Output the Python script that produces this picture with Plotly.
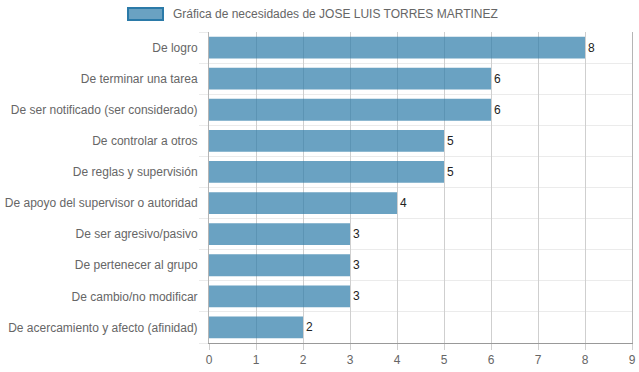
import plotly.graph_objects as go

categories = [
    "De logro",
    "De terminar una tarea",
    "De ser notificado (ser considerado)",
    "De controlar a otros",
    "De reglas y supervisión",
    "De apoyo del supervisor o autoridad",
    "De ser agresivo/pasivo",
    "De pertenecer al grupo",
    "De cambio/no modificar",
    "De acercamiento y afecto (afinidad)",
]
values = [8, 6, 6, 5, 5, 4, 3, 3, 3, 2]
series_name = "Gráfica de necesidades de JOSE LUIS TORRES MARTINEZ"
x_ticks = list(range(0, 10))

idx = list(range(len(categories)))
font = "Liberation Sans, Arial, Helvetica, sans-serif"

fig = go.Figure()
fig.add_trace(go.Bar(
    x=values, y=idx, orientation="h", width=0.7,
    marker=dict(color="rgba(43,122,168,0.7)", line=dict(width=0)),
    text=[str(v) for v in values], textposition="outside",
    textfont=dict(family=font, size=12, color="#222"),
    cliponaxis=False, showlegend=False, name=series_name,
))

fig.update_layout(
    template="none",
    width=639, height=372,
    margin=dict(l=209, r=7, t=32, b=29, autoexpand=False),
    paper_bgcolor="white", plot_bgcolor="white",
    font=dict(family=font, size=12, color="#666"),
    xaxis=dict(
        range=[0, 9], tickvals=x_ticks, showgrid=True, gridcolor="#cfcfcf", gridwidth=1,
        zeroline=False, showline=True, linecolor="#999", linewidth=1,
        ticks="outside", ticklen=6, tickcolor="#cfcfcf", automargin=False,
        ticklabeloverflow="allow",
        tickfont=dict(size=12, color="#666"),
    ),
    yaxis=dict(
        range=[len(categories) - 0.5, -0.5], tickvals=idx, ticktext=categories,
        showgrid=False, zeroline=False, showline=True, linecolor="#b5b5b5", linewidth=1,
        mirror=True, automargin=False,
        ticks="", ticklabelstandoff=8,
        minor=dict(tickvals=[i - 0.5 for i in range(len(categories) + 1)],
                   showgrid=True, gridcolor="#ebebeb", gridwidth=1,
                   ticks="outside", ticklen=9, tickcolor="#ebebeb"),
        tickfont=dict(size=12, color="#666"),
    ),
    showlegend=False,
)

# legend drawn as box + label
fig.add_shape(type="rect", xref="paper", yref="paper",
              x0=(128 - 209) / 423, x1=(163 - 209) / 423,
              y0=1 + (32 - 20) / 311, y1=1 + (32 - 8) / 311,
              fillcolor="rgba(43,122,168,0.7)", line=dict(color="#2b7aa8", width=2))
fig.add_annotation(text=series_name, xref="paper", yref="paper",
                   x=(171 - 209) / 423, y=1 + (32 - 14) / 311, xanchor="left", yanchor="middle",
                   showarrow=False, font=dict(size=12, color="#666"))

fig.write_html("out.html", config={"displayModeBar": False},
               post_script="document.body.style.margin='0';document.body.style.overflow='hidden';")
